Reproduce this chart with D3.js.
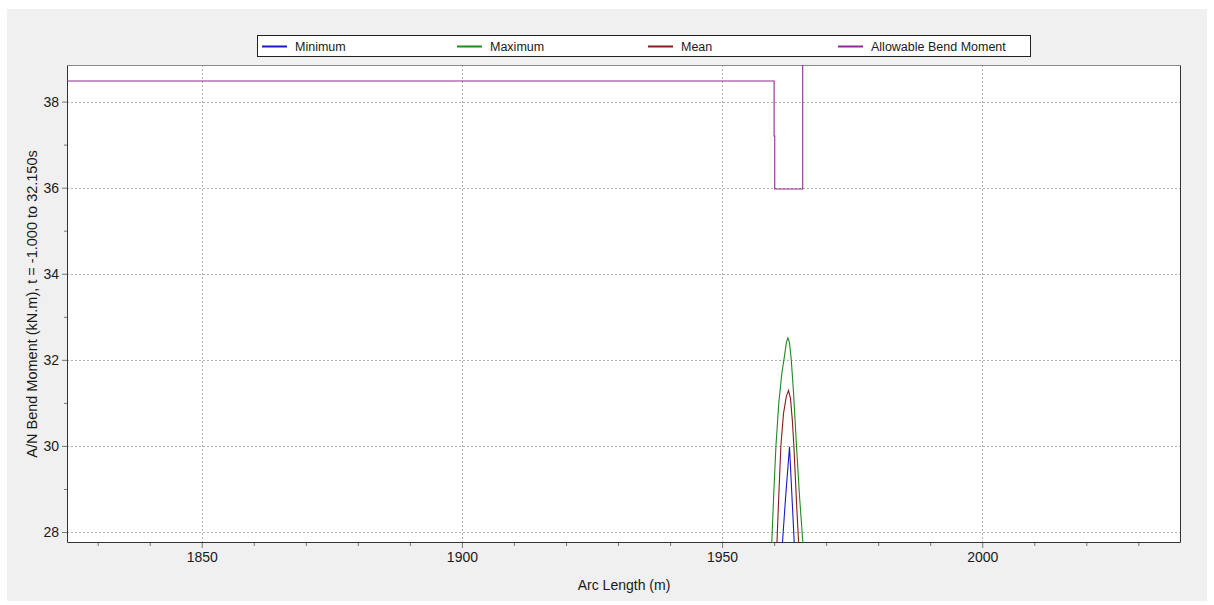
<!DOCTYPE html>
<html>
<head>
<meta charset="utf-8">
<script src="https://cdnjs.cloudflare.com/ajax/libs/d3/7.8.5/d3.min.js"></script>
<style>
  body { margin: 0; background: #fff; }
  text { font-family: "Liberation Sans", Arial, sans-serif; fill: #1a1a1a; }
</style>
</head>
<body>
<script>
let width = 1214
let height = 605
let margin = {top: 65, right: 33, bottom: 62, left: 67}
let fontSize = 13.5

// series: [arc length (m), moment (kN.m)]
let minimum = [[1961.35, 27.3], [1962.2, 28.8], [1962.96, 29.98], [1963.4, 28.9], [1964.05, 27.3]]
let maximum = [[1959.4, 27.3], [1959.9, 28.8], [1960.35, 30.0], [1960.9, 31.0], [1961.5, 31.7],
               [1961.95, 32.05], [1962.35, 32.4], [1962.65, 32.51], [1962.95, 32.4], [1963.3, 32.0],
               [1963.75, 31.2], [1964.3, 30.0], [1964.9, 28.8], [1965.8, 27.3]]
let mean = [[1960.4, 27.3], [1960.85, 28.7], [1961.3, 30.0], [1961.8, 30.75], [1962.35, 31.15],
            [1962.77, 31.29], [1963.15, 31.1], [1963.5, 30.6], [1963.8, 30.0], [1964.3, 28.7], [1964.9, 27.3]]
let allowable = [[1824, 38.48], [1960.0, 38.48], [1960.0, 37.2], [1960.12, 37.2], [1960.12, 35.97],
                 [1965.5, 35.97], [1965.5, 45], [2038.2, 45]]

let seriesNames = ["Minimum", "Maximum", "Mean", "Allowable Bend Moment"]
let seriesColors = ["#1a1acc", "#1f8a1f", "#8b1a1a", "#8e2a8e"]
let seriesData = [minimum, maximum, mean, allowable]

let xDomain = [1824.1, 2038.2]
let yDomain = [27.745, 38.85]
let xMajor = [1850, 1900, 1950, 2000]
let xMinor = d3.range(1830, 2040, 10)
let yMajor = [28, 30, 32, 34, 36, 38]
let yMinor = [29, 31, 33, 35, 37]

let svg = d3.select("body").append("svg")
    .attr("width", width)
    .attr("height", height)

// gray panel
svg.append("rect")
    .attr("x", 7).attr("y", 9)
    .attr("width", 1200).attr("height", 592)
    .attr("fill", "#f0f0f0")

let x = d3.scaleLinear().domain(xDomain).range([margin.left, width - margin.right])
let y = d3.scaleLinear().domain(yDomain).range([height - margin.bottom, margin.top])

svg.append("rect")
    .attr("x", x.range()[0]).attr("y", y.range()[1])
    .attr("width", x.range()[1] - x.range()[0])
    .attr("height", y.range()[0] - y.range()[1])
    .attr("fill", "#fff")

svg.append("clipPath").attr("id", "clip")
    .append("rect")
    .attr("x", x.range()[0]).attr("y", y.range()[1])
    .attr("width", x.range()[1] - x.range()[0])
    .attr("height", y.range()[0] - y.range()[1])

// grid
let grid = svg.append("g")
grid.selectAll(".gx").data(xMajor).enter().append("line")
    .attr("x1", d => Math.round(x(d)) + 0.5).attr("x2", d => Math.round(x(d)) + 0.5)
    .attr("y1", y.range()[0]).attr("y2", y.range()[1])
    .attr("stroke", "#b0b0b0").attr("stroke-dasharray", "2,2")
grid.selectAll(".gy").data(yMajor).enter().append("line")
    .attr("y1", d => Math.round(y(d)) + 0.5).attr("y2", d => Math.round(y(d)) + 0.5)
    .attr("x1", x.range()[0]).attr("x2", x.range()[1])
    .attr("stroke", "#b0b0b0").attr("stroke-dasharray", "2,2")

// axes
let xAxis = svg.append("g")
    .attr("transform", "translate(0," + y.range()[0] + ")")
    .call(d3.axisBottom(x).tickValues(xMajor).tickSize(5).tickPadding(4).tickFormat(d3.format("d")))
let xAxisMinor = svg.append("g")
    .attr("transform", "translate(0," + y.range()[0] + ")")
    .call(d3.axisBottom(x).tickValues(xMinor.filter(d => !xMajor.includes(d))).tickSize(3).tickFormat(""))
let yAxis = svg.append("g")
    .attr("transform", "translate(" + x.range()[0] + ",0)")
    .call(d3.axisLeft(y).tickValues(yMajor).tickSize(5).tickPadding(3).tickFormat(d3.format("d")))
let yAxisMinor = svg.append("g")
    .attr("transform", "translate(" + x.range()[0] + ",0)")
    .call(d3.axisLeft(y).tickValues(yMinor).tickSize(3).tickFormat(""))

svg.selectAll(".domain").remove()
svg.selectAll(".tick line").attr("stroke", "#777")
svg.selectAll(".tick text").style("font-size", "14px").attr("fill", "#1a1a1a")
    .style("font-family", "'Liberation Sans', Arial, sans-serif")

// frame
let x0 = x.range()[0] + 0.5, x1 = x.range()[1] - 0.5
let y0 = y.range()[1] + 0.5, y1 = y.range()[0] - 0.5
svg.append("line").attr("x1", x0).attr("x2", x1).attr("y1", y0).attr("y2", y0).attr("stroke", "#8a8a8a")
svg.append("line").attr("x1", x0).attr("x2", x1).attr("y1", y1).attr("y2", y1).attr("stroke", "#333")
svg.append("line").attr("x1", x0).attr("x2", x0).attr("y1", y0).attr("y2", y1).attr("stroke", "#333")
svg.append("line").attr("x1", x1).attr("x2", x1).attr("y1", y0).attr("y2", y1).attr("stroke", "#333")

// series
let line = d3.line().x(d => x(d[0])).y(d => y(d[1]))
let lines = svg.append("g").attr("clip-path", "url(#clip)")
seriesData.forEach((s, i) => {
    lines.append("path")
        .datum(s)
        .attr("d", line)
        .attr("fill", "none")
        .attr("stroke", seriesColors[i])
        .attr("stroke-width", 1.1)
})

// axis titles
svg.append("text")
    .attr("x", (x.range()[0] + x.range()[1]) / 2)
    .attr("y", 590)
    .attr("text-anchor", "middle")
    .style("font-size", "14px")
    .text("Arc Length (m)")
svg.append("text")
    .attr("transform", "translate(37," + 304 + ") rotate(-90)")
    .attr("text-anchor", "middle")
    .style("font-size", "14.5px")
    .text("A/N Bend Moment (kN.m), t = -1.000 to 32.150s")

// legend
let legendX = [262, 457, 648, 838]
let legend = svg.append("g")
legend.append("rect")
    .attr("x", 257.5).attr("y", 35.5)
    .attr("width", 773).attr("height", 21)
    .attr("fill", "#fff").attr("stroke", "#222")
let items = legend.selectAll(".item").data(seriesNames).enter().append("g")
    .attr("transform", (d, i) => "translate(" + legendX[i] + ",46)")
items.append("line")
    .attr("x1", 0).attr("x2", 25).attr("y1", 0.5).attr("y2", 0.5)
    .attr("stroke", (d, i) => seriesColors[i]).attr("stroke-width", 2)
items.append("text")
    .attr("x", 33).attr("y", 4.5)
    .style("font-size", "12.5px")
    .text(d => d)
</script>
</body>
</html>
